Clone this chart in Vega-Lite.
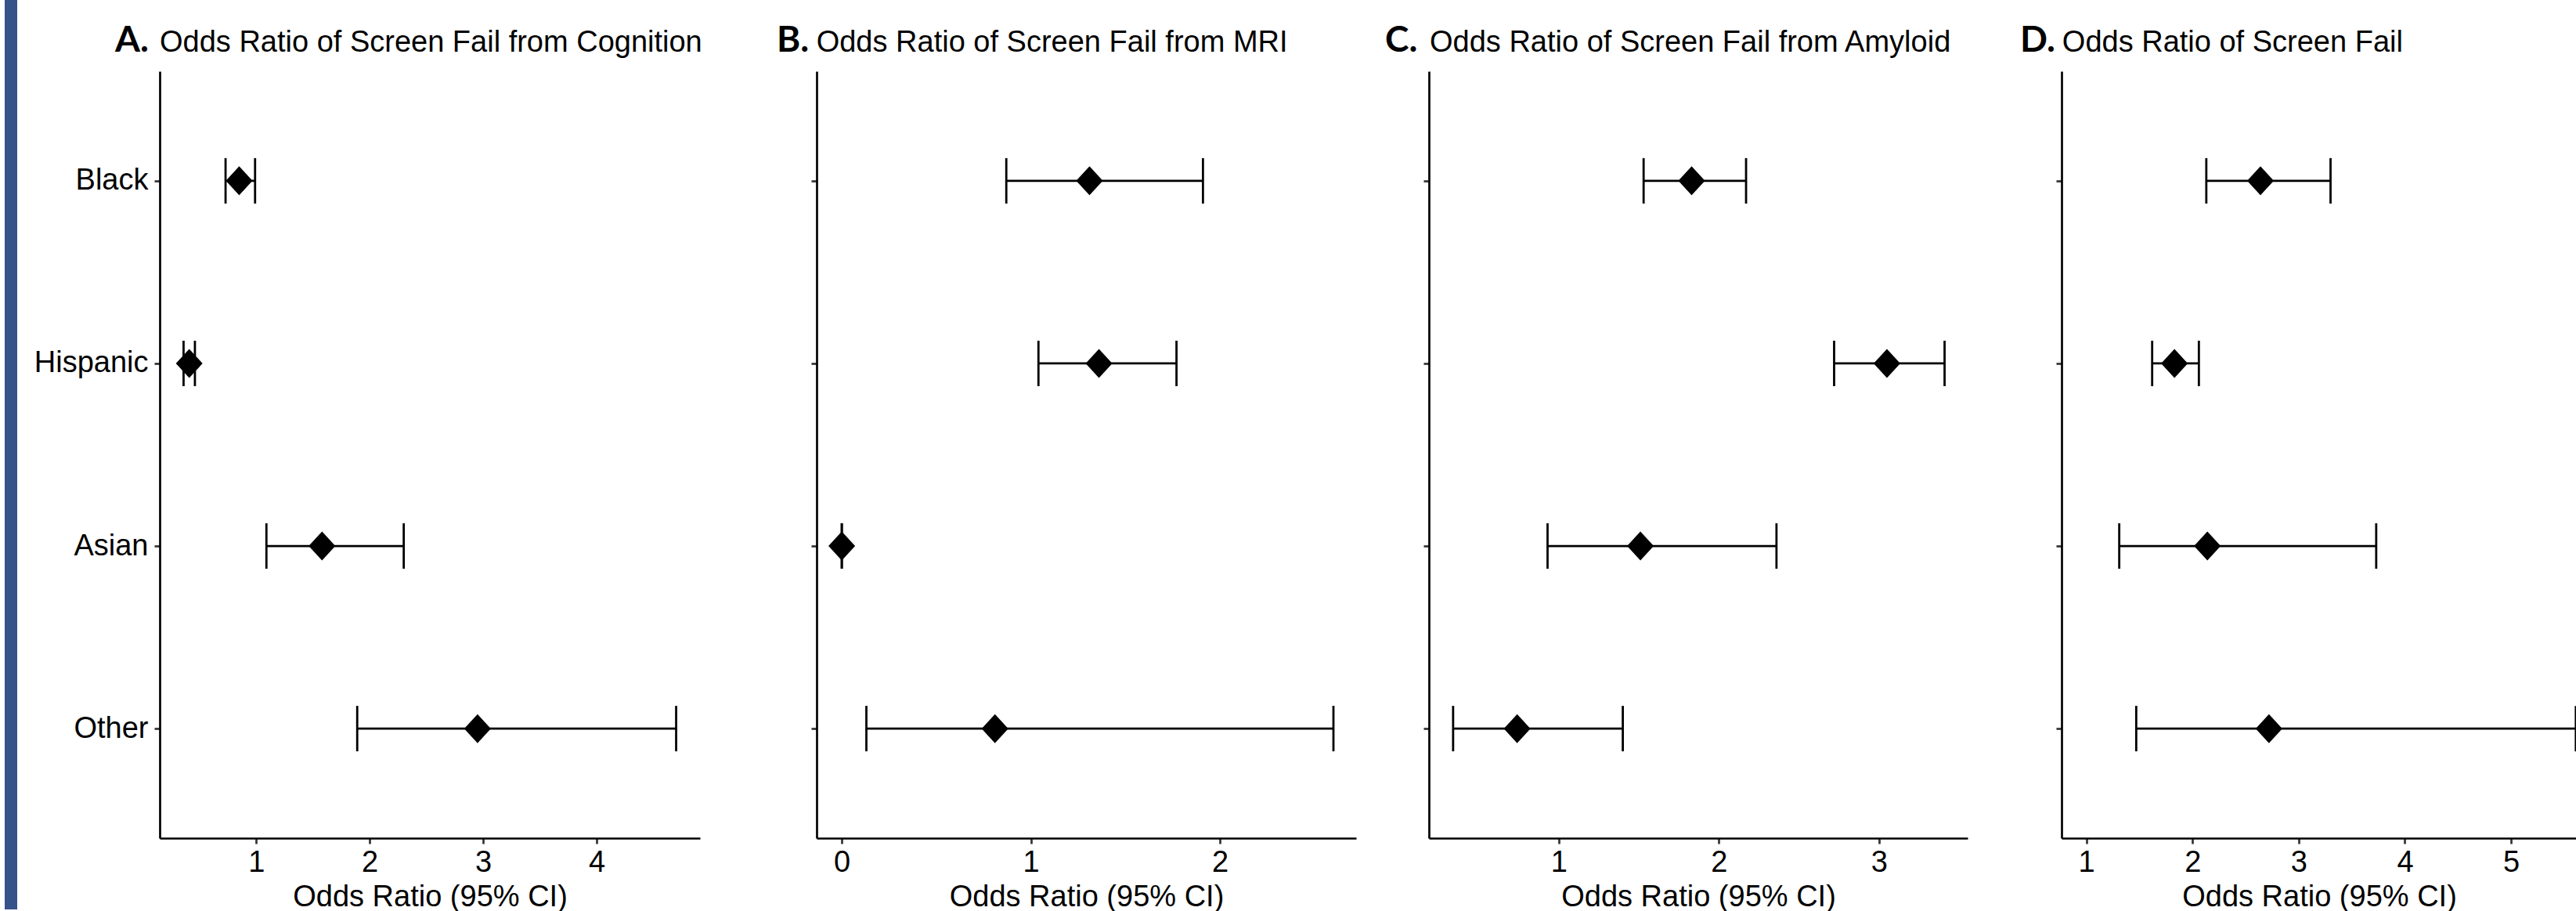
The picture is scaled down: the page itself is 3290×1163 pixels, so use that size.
{
  "$schema": "https://vega.github.io/schema/vega-lite/v6.json",
  "padding": {"left": 6, "top": 0, "right": 0, "bottom": 0},
  "bounds": "flush",
  "center": true,
  "spacing": 0,
  "config": {
    "font": "Liberation Sans",
    "view": {"stroke": null},
    "axis": {
      "domainColor": "#000000", "domainWidth": 2.7,
      "tickColor": "#333333", "tickWidth": 2.7, "tickSize": 7,
      "labelFont": "Liberation Sans", "labelFontSize": 38, "labelColor": "#000000", "labelPadding": 5, "labelFlush": false,
      "titleFont": "Liberation Sans", "titleFontSize": 38, "titleFontWeight": "normal", "titleColor": "#000000", "titlePadding": 6,
      "grid": false
    },
    "axisY": {"labelPadding": 8},
    "title": {
      "font": "Lato", "fontWeight": "bold", "fontSize": 46, "color": "#000000",
      "anchor": "start", "offset": 15, "frame": "group",
      "subtitleFont": "Liberation Sans", "subtitleFontSize": 38, "subtitleFontWeight": "normal", "subtitleColor": "#000000", "subtitlePadding": -40
    }
  },
  "hconcat": [
    {
      "width": 16, "height": 1161,
      "view": {"fill": "#36528a", "stroke": null},
      "data": {"values": [{}]},
      "mark": {"type": "text"},
      "encoding": {"text": {"value": ""}}
    },
    {"width": 182, "height": 10, "data": {"values": [{}]}, "mark": {"type": "text"}, "encoding": {"text": {"value": ""}}},
    {
      "width": 690, "height": 979,
      "title": {"text": "A.", "subtitle": "\u200b\u2003\u2002Odds Ratio of Screen Fail from Cognition", "dx": -57},
      "data": {"values": [
        {"group": "Black", "or": 0.85, "lo": 0.73, "hi": 0.99},
        {"group": "Hispanic", "or": 0.41, "lo": 0.36, "hi": 0.46},
        {"group": "Asian", "or": 1.58, "lo": 1.09, "hi": 2.30},
        {"group": "Other", "or": 2.95, "lo": 1.89, "hi": 4.70}
      ]},
      "encoding": {"y": {"field": "group", "type": "nominal", "scale": {"type": "point", "domain": ["Black", "Hispanic", "Asian", "Other"], "padding": 0.6}, "axis": {"title": null}}},
      "layer": [
        {"mark": {"type": "rule", "color": "#000000", "strokeWidth": 2.8}, "encoding": {"x": {"field": "lo", "type": "quantitative", "scale": {"domain": [0.15, 4.91], "nice": false, "zero": false}, "axis": {"title": "Odds Ratio (95% CI)", "values": [1, 2, 3, 4], "format": "d"}}, "x2": {"field": "hi"}}},
        {"mark": {"type": "tick", "color": "#000000", "size": 58, "thickness": 2.8, "opacity": 1}, "encoding": {"x": {"field": "lo", "type": "quantitative"}}},
        {"mark": {"type": "tick", "color": "#000000", "size": 58, "thickness": 2.8, "opacity": 1}, "encoding": {"x": {"field": "hi", "type": "quantitative"}}},
        {"mark": {"type": "point", "shape": "M0,-1L0.92,0L0,1L-0.92,0Z", "size": 1369, "filled": true, "color": "#000000", "opacity": 1, "strokeWidth": 0}, "encoding": {"x": {"field": "or", "type": "quantitative"}}}
      ]
    },
    {"width": 149, "height": 10, "data": {"values": [{}]}, "mark": {"type": "text"}, "encoding": {"text": {"value": ""}}},
    {
      "width": 689, "height": 979,
      "title": {"text": "B.", "subtitle": "\u200b\u2003\u2004Odds Ratio of Screen Fail from MRI", "dx": -51},
      "data": {"values": [
        {"group": "Black", "or": 1.31, "lo": 0.87, "hi": 1.91},
        {"group": "Hispanic", "or": 1.36, "lo": 1.04, "hi": 1.77},
        {"group": "Asian", "or": 0.0, "lo": 0.0, "hi": 0.0},
        {"group": "Other", "or": 0.81, "lo": 0.13, "hi": 2.60}
      ]},
      "encoding": {"y": {"field": "group", "type": "nominal", "scale": {"type": "point", "domain": ["Black", "Hispanic", "Asian", "Other"], "padding": 0.6}, "axis": {"title": null, "labels": false}}},
      "layer": [
        {"mark": {"type": "rule", "color": "#000000", "strokeWidth": 2.8}, "encoding": {"x": {"field": "lo", "type": "quantitative", "scale": {"domain": [-0.133, 2.72], "nice": false, "zero": false}, "axis": {"title": "Odds Ratio (95% CI)", "values": [0, 1, 2], "format": "d"}}, "x2": {"field": "hi"}}},
        {"mark": {"type": "tick", "color": "#000000", "size": 58, "thickness": 2.8, "opacity": 1}, "encoding": {"x": {"field": "lo", "type": "quantitative"}}},
        {"mark": {"type": "tick", "color": "#000000", "size": 58, "thickness": 2.8, "opacity": 1}, "encoding": {"x": {"field": "hi", "type": "quantitative"}}},
        {"mark": {"type": "point", "shape": "M0,-1L0.92,0L0,1L-0.92,0Z", "size": 1369, "filled": true, "color": "#000000", "opacity": 1, "strokeWidth": 0}, "encoding": {"x": {"field": "or", "type": "quantitative"}}}
      ]
    },
    {"width": 92.5, "height": 10, "data": {"values": [{}]}, "mark": {"type": "text"}, "encoding": {"text": {"value": ""}}},
    {
      "width": 688, "height": 979,
      "title": {"text": "C.", "subtitle": "\u200b\u2003\u2002Odds Ratio of Screen Fail from Amyloid", "dx": -56},
      "data": {"values": [
        {"group": "Black", "or": 1.83, "lo": 1.53, "hi": 2.17},
        {"group": "Hispanic", "or": 3.05, "lo": 2.72, "hi": 3.41},
        {"group": "Asian", "or": 1.51, "lo": 0.93, "hi": 2.36},
        {"group": "Other", "or": 0.74, "lo": 0.34, "hi": 1.40}
      ]},
      "encoding": {"y": {"field": "group", "type": "nominal", "scale": {"type": "point", "domain": ["Black", "Hispanic", "Asian", "Other"], "padding": 0.6}, "axis": {"title": null, "labels": false}}},
      "layer": [
        {"mark": {"type": "rule", "color": "#000000", "strokeWidth": 2.8}, "encoding": {"x": {"field": "lo", "type": "quantitative", "scale": {"domain": [0.189, 3.554], "nice": false, "zero": false}, "axis": {"title": "Odds Ratio (95% CI)", "values": [1, 2, 3], "format": "d"}}, "x2": {"field": "hi"}}},
        {"mark": {"type": "tick", "color": "#000000", "size": 58, "thickness": 2.8, "opacity": 1}, "encoding": {"x": {"field": "lo", "type": "quantitative"}}},
        {"mark": {"type": "tick", "color": "#000000", "size": 58, "thickness": 2.8, "opacity": 1}, "encoding": {"x": {"field": "hi", "type": "quantitative"}}},
        {"mark": {"type": "point", "shape": "M0,-1L0.92,0L0,1L-0.92,0Z", "size": 1369, "filled": true, "color": "#000000", "opacity": 1, "strokeWidth": 0}, "encoding": {"x": {"field": "or", "type": "quantitative"}}}
      ]
    },
    {"width": 119.5, "height": 10, "data": {"values": [{}]}, "mark": {"type": "text"}, "encoding": {"text": {"value": ""}}},
    {
      "width": 658, "height": 979,
      "title": {"text": "D.", "subtitle": "\u200b\u2003\u2005\u2006Odds Ratio of Screen Fail", "dx": -53},
      "data": {"values": [
        {"group": "Black", "or": 2.64, "lo": 2.13, "hi": 3.30},
        {"group": "Hispanic", "or": 1.83, "lo": 1.62, "hi": 2.06},
        {"group": "Asian", "or": 2.14, "lo": 1.31, "hi": 3.73},
        {"group": "Other", "or": 2.72, "lo": 1.47, "hi": 5.61}
      ]},
      "encoding": {"y": {"field": "group", "type": "nominal", "scale": {"type": "point", "domain": ["Black", "Hispanic", "Asian", "Other"], "padding": 0.6}, "axis": {"title": null, "labels": false}}},
      "layer": [
        {"mark": {"type": "rule", "color": "#000000", "strokeWidth": 2.8}, "encoding": {"x": {"field": "lo", "type": "quantitative", "scale": {"domain": [0.767, 5.619], "nice": false, "zero": false}, "axis": {"title": "Odds Ratio (95% CI)", "values": [1, 2, 3, 4, 5], "format": "d"}}, "x2": {"field": "hi"}}},
        {"mark": {"type": "tick", "color": "#000000", "size": 58, "thickness": 2.8, "opacity": 1}, "encoding": {"x": {"field": "lo", "type": "quantitative"}}},
        {"mark": {"type": "tick", "color": "#000000", "size": 58, "thickness": 2.8, "opacity": 1}, "encoding": {"x": {"field": "hi", "type": "quantitative"}}},
        {"mark": {"type": "point", "shape": "M0,-1L0.92,0L0,1L-0.92,0Z", "size": 1369, "filled": true, "color": "#000000", "opacity": 1, "strokeWidth": 0}, "encoding": {"x": {"field": "or", "type": "quantitative"}}}
      ]
    }
  ]
}
